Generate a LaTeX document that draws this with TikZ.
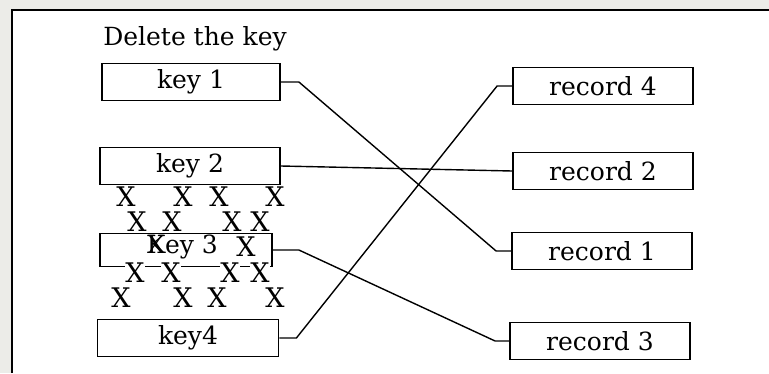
\documentclass[tikz,border=0pt]{standalone}
\usepackage{fontspec}
\setmainfont{DejaVu Serif}
\usetikzlibrary{calc}
\definecolor{papergray}{RGB}{236,236,232}
\begin{document}
\begin{tikzpicture}[x=1pt,y=-1pt,
  txt/.style={font=\fontsize{25}{28}\selectfont},
  box/.style={draw, line width=1.8pt, minimum width=180pt, minimum height=37pt, inner sep=0pt, txt},
  link/.style={line width=1.4pt},
  xmark/.style={font=\fontsize{27}{27}\selectfont, inner sep=0.3pt, fill=white}]
\useasboundingbox (0,0) rectangle (769,373);
\fill[papergray] (0,0) rectangle (769,373);
\fill[white] (12,10) rectangle (769,373);
\draw[line width=1.8pt] (12,373) -- (12,10) -- (769,10);

\node[txt] (title) at (195,39) {Delete the key};

\node[box, minimum width=178pt] (k1) at (191,82) {key 1};
\node[box] (k2) at (190,166) {key 2};
\node[box, minimum width=172pt, minimum height=33pt] (k3) at (186,250) {};
\node[box, minimum width=181pt] (k4) at (188,338) {key4};

\node[box] (r4) at (603,86) {record 4};
\node[box] (r2) at (603,171) {record 2};
\node[box] (r1) at (602,251) {record 1};
\node[box] (r3) at (600,341) {record 3};

% deletion marks
\foreach \x/\y [count=\i] in {126/197,183/197,219/197,275/197,
  137/222,172/222,232/222,260/222,
  135/273,171/273,230/273,260/273,
  121/298,183/298,217/298,275/298}
  \node[xmark] (x\i) at (\x,\y) {X};
\node[txt, inner sep=0pt, anchor=west] (k3t) at (147,247) {\ooalign{\hidewidth K\hidewidth\cr X\cr}ey 3};
\node[xmark] (x17) at (246,247) {X};

% connectors
\draw[link] (k1.east) -- ++(18,0) coordinate (c1) -- ($(r1.west)+(-15,0)$) coordinate (d1) -- (r1.west);
\draw[link] (k2.east) -- (r2.west);
\draw[link] (k3.east) -- ++(26,0) coordinate (c3) -- ($(r3.west)+(-14,0)$) coordinate (d3) -- (r3.west);
\draw[link] (k4.east) -- ++(17,0) coordinate (c4) -- ($(r4.west)+(-15,0)$) coordinate (d4) -- (r4.west);
\end{tikzpicture}
\end{document}
